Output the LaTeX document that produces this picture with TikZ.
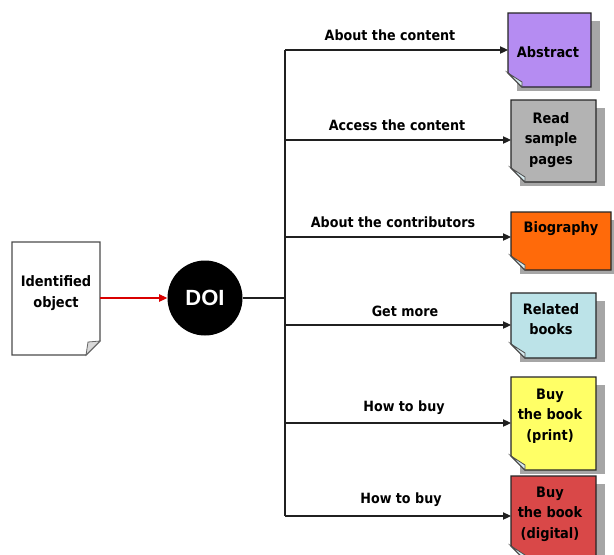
\documentclass[tikz,border=0pt]{standalone}
\usepackage{fontspec}
\setmainfont{DejaVu Sans Condensed}
\newfontfamily\doifont{Liberation Sans}
\usetikzlibrary{arrows.meta}
\definecolor{cAbstract}{HTML}{B58CF2}
\definecolor{cRead}{HTML}{B3B3B3}
\definecolor{cBio}{HTML}{FF6A0A}
\definecolor{cRelated}{HTML}{BCE3E8}
\definecolor{cPrint}{HTML}{FFFF66}
\definecolor{cDigital}{HTML}{D94848}
\definecolor{cShadow}{HTML}{A6A6A6}
\definecolor{cFold}{HTML}{D8ECF0}
\definecolor{cLine}{HTML}{202020}
\tikzset{
  lbl/.style={font=\bfseries\fontsize{10.6pt}{12pt}\selectfont, inner sep=0pt},
  boxtext/.style={font=\bfseries\fontsize{10.8pt}{15.5pt}\selectfont, align=center, inner sep=0pt, text=black},
  conn/.style={draw=cLine, line width=0.8pt},
  arr/.style={conn, -{Triangle[length=6pt,width=5.5pt]}},
  anchorbox/.style={inner sep=0pt, outer sep=0pt, anchor=north west}
}
% note card: name, x1, y1, x2, y2, fill colour
\newcommand\notecard[6]{%
  \fill[cShadow] (#2+9,#3+8) rectangle (#4+9,#5+4);
  \filldraw[fill=#6, draw=black!85, line width=0.9pt]
    (#2,#3) -- (#4,#3) -- (#4,#5) -- (#2+14,#5) -- (#2,#5-14) -- cycle;
  \filldraw[fill=cFold, draw=black!70, line width=0.6pt]
    (#2,#5-14) -- (#2+14,#5-5) -- (#2+14,#5) -- cycle;
  \node[anchorbox, minimum width={(#4-#2)*0.75pt}, minimum height={(#5-#3)*0.75pt}] (#1) at (#2,#3) {};
}
\begin{document}
\begin{tikzpicture}[x=0.75pt, y=-0.75pt]
\useasboundingbox (0,0) rectangle (614,554);
\fill[white] (0,0) rectangle (614,554);

% identified object sheet
\filldraw[fill=white, draw=black!70, line width=0.9pt]
  (12,242) -- (100,242) -- (100,341) -- (86,355) -- (12,355) -- cycle;
\filldraw[fill=black!15, draw=black!60, line width=0.6pt]
  (100,341) -- (86,355) -- (88,342) -- cycle;
\node[anchorbox, minimum width={88*0.75pt}, minimum height={113*0.75pt}] (obj) at (12,242) {};
\node[boxtext] (objtext) at (56,293) {Identified\\object};

% DOI disc
\node[circle, fill=black, minimum size={75*0.75pt}, inner sep=0pt,
      font=\doifont\bfseries\fontsize{16.5pt}{16pt}\selectfont, text=white] (doi) at (205,298) {DOI};

\draw[draw=red!85!black, line width=0.8pt, -{Triangle[length=6pt,width=5.5pt]}] (obj.east |- doi) -- (doi.west);

% target cards
\notecard{abstract}{508}{13}{591}{87}{cAbstract}
\notecard{read}{511}{100}{596}{182}{cRead}
\notecard{bio}{511}{212}{611}{270}{cBio}
\notecard{related}{511}{293}{596}{358}{cRelated}
\notecard{print}{511}{377}{596}{470}{cPrint}
\notecard{digital}{511}{476}{596}{560}{cDigital}

\node[boxtext] at (548,52) {Abstract};
\node[boxtext] at (551,140) {Read\\sample\\pages};
\node[boxtext] at (561,229) {Biography};
\node[boxtext] at (551,319) {Related\\books};
\node[boxtext] at (550,416) {Buy\\the book\\(print)};
\node[boxtext] at (550,514) {Buy\\the book\\(digital)};

% trunk and branches
\coordinate (split) at (285,298);
\coordinate (top) at (285,50);
\coordinate (bottom) at (285,516);
\draw[conn] (doi.east) -- (split);
\draw[conn] (top) -- (bottom);
\draw[arr] (top) -- (abstract.west |- top);
\draw[arr] (285,140) -- (read.west |- 0,140);
\draw[arr] (285,237) -- (bio.west |- 0,237);
\draw[arr] (285,325) -- (related.west |- 0,325);
\draw[arr] (285,423) -- (print.west |- 0,423);
\draw[arr] (bottom) -- (digital.west |- bottom);

% branch labels
\node[lbl] at (390,35) {About the content};
\node[lbl] at (397,125) {Access the content};
\node[lbl] at (393,222) {About the contributors};
\node[lbl] at (405,311) {Get more};
\node[lbl] at (404,408) {How to buy};
\node[lbl] at (401,500) {How to buy};
\end{tikzpicture}
\end{document}
